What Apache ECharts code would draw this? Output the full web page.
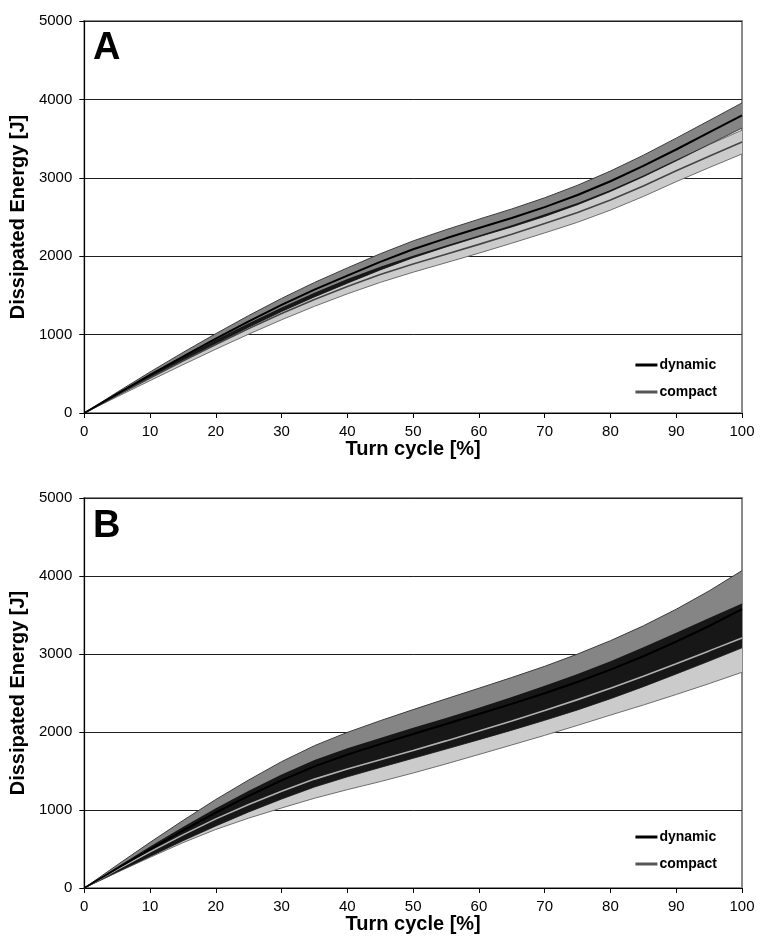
<!DOCTYPE html>
<html>
<head>
<meta charset="utf-8">
<script src="https://cdn.jsdelivr.net/npm/echarts@6/dist/echarts.min.js"></script>
<style>
html,body{margin:0;padding:0;background:#fff;}
#chart{width:760px;height:945px;}
</style>
</head>
<body>
<div id="chart"></div>
<script>
// ---- data ----
const turnCycle = [0,5,10,15,20,25,30,35,40,45,50,55,60,65,70,75,80,85,90,95,100];
const xTicks = [0,10,20,30,40,50,60,70,80,90,100];
const yTicks = [0,1000,2000,3000,4000,5000];
const seriesNames = ['dynamic','compact'];
const panelLabels = ['A','B'];

// Panel A
const A_dynamicMean = [0,245,485,720,948,1168,1378,1573,1753,1928,2088,2228,2360,2488,2626,2781,2956,3151,3361,3578,3795];
const A_dynamicSD   = [0,20,38,52,64,75,84,92,98,103,107,110,112,115,119,124,130,137,145,152,160];
const A_compactMean = [0,225,447,664,874,1076,1268,1448,1614,1766,1901,2026,2151,2281,2416,2556,2716,2896,3091,3276,3456];
const A_compactSD   = [0,18,34,48,60,70,79,87,94,100,105,109,112,115,119,123,128,134,140,146,152];

// Panel B
const B_dynamicMean = [0,250,495,735,965,1180,1380,1560,1710,1845,1975,2103,2231,2361,2496,2641,2799,2971,3159,3359,3574];
const B_dynamicSD   = [0,45,90,130,170,205,240,265,285,300,312,322,330,338,346,358,372,390,415,450,495];
const B_compactMean = [0,235,463,681,886,1071,1241,1396,1526,1644,1764,1886,2012,2142,2275,2415,2562,2716,2876,3040,3206];
const B_compactSD   = [0,35,70,100,135,175,215,245,265,280,290,295,300,308,318,330,345,370,395,420,440];

// ---- build options ----
const FONT = '"Liberation Sans", Arial, sans-serif';

function pairs(arr){ return turnCycle.map((x,i)=>[x,arr[i]]); }

function bandSeries(gi, low, high, fill, edge, edgeW, z){
  const data = turnCycle.map((x,i)=>[x, low[i], high[i]]);
  return {
    type:'custom', xAxisIndex:gi, yAxisIndex:gi, data:data, z:z, silent:true, clip:true,
    encode:{x:0, y:[1,2]},
    renderItem:function(params, api){
      if (params.dataIndex !== 0) return null;
      const upper = data.map(d=>api.coord([d[0], d[2]]));
      const lower = data.map(d=>api.coord([d[0], d[1]]));
      const poly = upper.concat(lower.slice().reverse());
      const children = [{type:'polygon', shape:{points:poly}, style:{fill:fill, stroke:null}}];
      if (edgeW > 0) {
        children.push({type:'polyline', shape:{points:upper}, style:{stroke:edge, lineWidth:edgeW, fill:null}});
        children.push({type:'polyline', shape:{points:lower}, style:{stroke:edge, lineWidth:edgeW, fill:null}});
      }
      return {type:'group', children:children};
    }
  };
}

function panelSeries(gi, dM, dS, cM, cS, compactLineColor){
  const dLo = dM.map((v,i)=>v-dS[i]), dHi = dM.map((v,i)=>v+dS[i]);
  const cLo = cM.map((v,i)=>v-cS[i]), cHi = cM.map((v,i)=>v+cS[i]);
  const oLo = dLo.map((v,i)=>Math.max(v,cLo[i]));
  const oHi = dHi.map((v,i)=>Math.max(Math.min(v,cHi[i]), oLo[i]));
  return [
    bandSeries(gi,cLo,cHi,'#cbcbcb','#6e6e6e',1,2),
    bandSeries(gi,dLo,dHi,'#858585','#3c3c3c',1,3),
    bandSeries(gi,oLo,oHi,'#171717','#171717',0,4),
    {name:'dynamic', type:'line', xAxisIndex:gi, yAxisIndex:gi, data:pairs(dM),
     symbol:'none', z:6, lineStyle:{color:'#000', width:2}, itemStyle:{color:'#000'}},
    {name:'compact', type:'line', xAxisIndex:gi, yAxisIndex:gi, data:pairs(cM),
     symbol:'none', z:5, lineStyle:{color:compactLineColor, width:1.6}, itemStyle:{color:compactLineColor}}
  ];
}

const grids = [
  {left:82, right:18, top:21, height:392, show:true, borderColor:'#8a8a8a', borderWidth:2, backgroundColor:'#fff'},
  {left:82, right:18, top:498, height:390, show:true, borderColor:'#8a8a8a', borderWidth:2, backgroundColor:'#fff'}
];

function xAxisFor(gi){
  return {
    type:'value', gridIndex:gi, min:xTicks[0], max:xTicks[xTicks.length-1], interval:xTicks[1]-xTicks[0],
    name:'Turn cycle [%]', nameLocation:'middle', nameGap:17,
    nameTextStyle:{fontFamily:FONT, fontWeight:'bold', fontSize:20, color:'#000'},
    axisLine:{lineStyle:{color:'#000', width:1}},
    axisTick:{show:true, length:5, inside:false, lineStyle:{color:'#000'}},
    axisLabel:{fontFamily:FONT, fontSize:15, color:'#000', margin:11, formatter:v=>String(v)},
    splitLine:{show:false}
  };
}
function yAxisFor(gi){
  return {
    type:'value', gridIndex:gi, min:yTicks[0], max:yTicks[yTicks.length-1], interval:yTicks[1]-yTicks[0],
    name:'Dissipated Energy [J]', nameLocation:'middle', nameGap:43,
    nameTextStyle:{fontFamily:FONT, fontWeight:'bold', fontSize:20, color:'#000'},
    axisLine:{show:true, lineStyle:{color:'#000', width:1}},
    axisTick:{show:true, length:5, lineStyle:{color:'#000'}},
    axisLabel:{fontFamily:FONT, fontSize:15, color:'#000', margin:12, formatter:v=>String(v)},
    splitLine:{show:true, lineStyle:{color:'#1e1e1e', width:1}}
  };
}

function legendFor(top){
  return {orient:'vertical', right:38, top:top, itemGap:13, itemWidth:22, itemHeight:3,
    icon:'rect', selectedMode:false,
    data:[{name:seriesNames[0], itemStyle:{color:'#000'}},
          {name:seriesNames[1], itemStyle:{color:'#555'}}],
    textStyle:{fontFamily:FONT, fontWeight:'bold', fontSize:14, color:'#000', padding:[0,0,0,-3]}};
}

const option = {
  animation:false,
  backgroundColor:'#fff',
  grid: grids,
  xAxis: [xAxisFor(0), xAxisFor(1)],
  yAxis: [yAxisFor(0), yAxisFor(1)],
  legend: [legendFor(353), legendFor(825)],
  title: [
    {text:panelLabels[0], left:88, top:25, textStyle:{fontFamily:FONT, fontWeight:'bold', fontSize:38, color:'#000'}},
    {text:panelLabels[1], left:88, top:503, textStyle:{fontFamily:FONT, fontWeight:'bold', fontSize:38, color:'#000'}}
  ],
  series: [].concat(
    panelSeries(0, A_dynamicMean, A_dynamicSD, A_compactMean, A_compactSD, '#454545'),
    panelSeries(1, B_dynamicMean, B_dynamicSD, B_compactMean, B_compactSD, '#b0b0b0')
  )
};

const chart = echarts.init(document.getElementById('chart'), null, {renderer:'canvas'});
chart.setOption(option);
</script>
</body>
</html>
